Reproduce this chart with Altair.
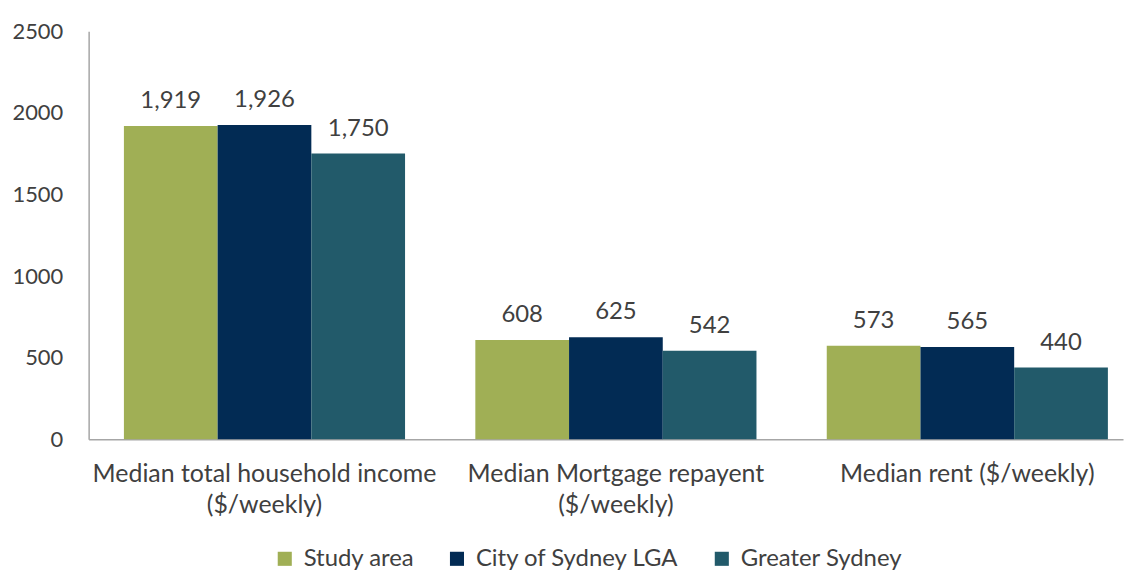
import altair as alt
import pandas as pd

categories = [
    "Median total household income ($/weekly)",
    "Median Mortgage repayent ($/weekly)",
    "Median rent ($/weekly)",
]
series = ["Study area", "City of Sydney LGA", "Greater Sydney"]
study_area = [1919, 608, 573]
city_of_sydney = [1926, 625, 565]
greater_sydney = [1750, 542, 440]
colors = ["#A0AF55", "#022B54", "#225A6A"]

rows = []
for i, c in enumerate(categories):
    for s, vals in zip(series, [study_area, city_of_sydney, greater_sydney]):
        rows.append({"category": c, "series": s, "value": vals[i]})
df = pd.DataFrame(rows)

FONT = "Lato"
TXT = "#404040"

x = alt.X(
    "category:N",
    sort=categories,
    title=None,
    scale=alt.Scale(paddingInner=0.2, paddingOuter=0.0717, align=0.7),
    axis=alt.Axis(
        labelAngle=0,
        ticks=False,
        labelPadding=22,
        labelFontSize=25,
        labelLineHeight=32,
        labelLimit=500,
        labelExpr="length(datum.label) > 25 ? [slice(datum.label, 0, indexof(datum.label, ' (')), slice(datum.label, indexof(datum.label, ' (') + 1)] : datum.label",
    ),
)
xo = alt.XOffset("series:N", sort=series, scale=alt.Scale(paddingInner=0, paddingOuter=0))
y = alt.Y(
    "value:Q",
    title=None,
    scale=alt.Scale(domain=[0, 2500], nice=False),
    axis=alt.Axis(values=[0, 500, 1000, 1500, 2000, 2500], format="d", ticks=False,
                  grid=False, labelPadding=26, labelFontSize=22),
)

bars = alt.Chart(df).mark_bar().encode(
    x=x,
    xOffset=xo,
    y=y,
    color=alt.Color(
        "series:N",
        sort=series,
        scale=alt.Scale(domain=series, range=colors),
        legend=alt.Legend(
            title=None,
            orient="none",
            direction="horizontal",
            legendX=185,
            legendY=518,
            symbolType="square",
            symbolSize=200,
            symbolStrokeWidth=0,
            labelFontSize=24,
            labelFont=FONT,
            labelColor=TXT,
            labelLimit=400,
            columnPadding=30,
            labelOffset=7,
        ),
    ),
)

labels = alt.Chart(df).mark_text(
    baseline="bottom", dy=-13, fontSize=24, font=FONT, color=TXT
).encode(
    x=x,
    xOffset=xo,
    y=y,
    text=alt.Text("value:Q", format=","),
)

chart = (
    alt.layer(bars, labels)
    .properties(
        width=1039,
        height=410,
        autosize=alt.AutoSizeParams(type="none"),
        padding={"left": 81, "top": 22, "right": 2, "bottom": 134},
    )
    .configure_view(stroke=None)
    .configure_axis(
        labelFont=FONT,
        labelColor=TXT,
        domainColor="#A6A6A6",
        domainWidth=1.5,
    )
)

chart.save("out.html", embed_options={"renderer": "svg", "actions": False})
